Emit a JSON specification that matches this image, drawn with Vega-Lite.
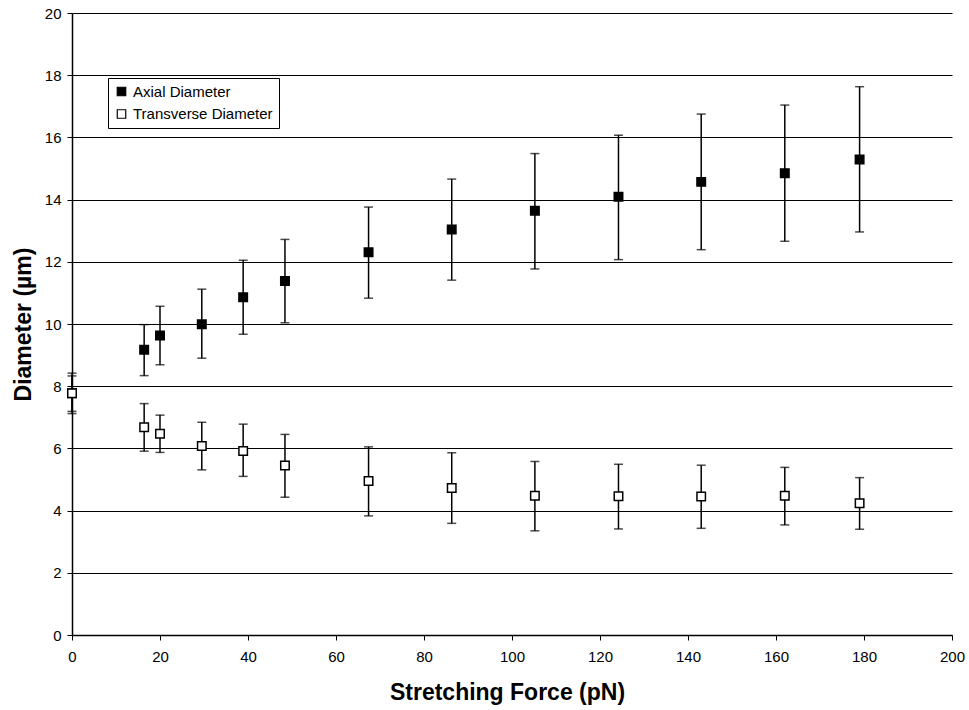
{
  "$schema": "https://vega.github.io/schema/vega-lite/v6.json",
  "width": 880,
  "height": 622,
  "autosize": "none",
  "padding": {"left": 72, "top": 13, "right": 17, "bottom": 75},
  "background": "white",
  "config": {
    "view": {"stroke": null},
    "font": "Liberation Sans",
    "axis": {
      "labelFont": "Liberation Sans",
      "titleFont": "Liberation Sans",
      "labelColor": "black",
      "titleColor": "black",
      "domainColor": "black",
      "tickColor": "black",
      "domainWidth": 1.5,
      "tickWidth": 1,
      "tickSize": 5,
      "labelFontSize": 15,
      "titleFontSize": 23,
      "titleFontWeight": "bold",
      "labelFlush": false,
      "labelOverlap": false
    }
  },
  "data": {
    "values": [
      {"series": "Axial Diameter", "force": 0, "d": 7.77, "lo": 7.12, "hi": 8.42},
      {"series": "Axial Diameter", "force": 16.4, "d": 9.17, "lo": 8.34, "hi": 9.98},
      {"series": "Axial Diameter", "force": 20.0, "d": 9.63, "lo": 8.69, "hi": 10.57},
      {"series": "Axial Diameter", "force": 29.5, "d": 9.99, "lo": 8.90, "hi": 11.12},
      {"series": "Axial Diameter", "force": 38.9, "d": 10.86, "lo": 9.67, "hi": 12.05},
      {"series": "Axial Diameter", "force": 48.4, "d": 11.38, "lo": 10.04, "hi": 12.72},
      {"series": "Axial Diameter", "force": 67.4, "d": 12.31, "lo": 10.83, "hi": 13.76},
      {"series": "Axial Diameter", "force": 86.3, "d": 13.04, "lo": 11.41, "hi": 14.66},
      {"series": "Axial Diameter", "force": 105.2, "d": 13.64, "lo": 11.77, "hi": 15.48},
      {"series": "Axial Diameter", "force": 124.2, "d": 14.09, "lo": 12.07, "hi": 16.07},
      {"series": "Axial Diameter", "force": 143.0, "d": 14.57, "lo": 12.39, "hi": 16.75},
      {"series": "Axial Diameter", "force": 162.0, "d": 14.85, "lo": 12.66, "hi": 17.04},
      {"series": "Axial Diameter", "force": 179.0, "d": 15.29, "lo": 12.96, "hi": 17.63},
      {"series": "Transverse Diameter", "force": 0, "d": 7.77, "lo": 7.19, "hi": 8.33},
      {"series": "Transverse Diameter", "force": 16.4, "d": 6.68, "lo": 5.91, "hi": 7.44},
      {"series": "Transverse Diameter", "force": 20.0, "d": 6.47, "lo": 5.87, "hi": 7.07},
      {"series": "Transverse Diameter", "force": 29.5, "d": 6.08, "lo": 5.31, "hi": 6.84},
      {"series": "Transverse Diameter", "force": 38.9, "d": 5.92, "lo": 5.10, "hi": 6.78},
      {"series": "Transverse Diameter", "force": 48.4, "d": 5.45, "lo": 4.43, "hi": 6.45},
      {"series": "Transverse Diameter", "force": 67.4, "d": 4.95, "lo": 3.83, "hi": 6.05},
      {"series": "Transverse Diameter", "force": 86.3, "d": 4.73, "lo": 3.59, "hi": 5.86},
      {"series": "Transverse Diameter", "force": 105.2, "d": 4.48, "lo": 3.35, "hi": 5.58},
      {"series": "Transverse Diameter", "force": 124.2, "d": 4.46, "lo": 3.41, "hi": 5.49},
      {"series": "Transverse Diameter", "force": 143.0, "d": 4.45, "lo": 3.43, "hi": 5.46},
      {"series": "Transverse Diameter", "force": 162.0, "d": 4.48, "lo": 3.54, "hi": 5.39},
      {"series": "Transverse Diameter", "force": 179.0, "d": 4.24, "lo": 3.40, "hi": 5.06}
    ]
  },
  "encoding": {
    "x": {
      "field": "force",
      "type": "quantitative",
      "scale": {"domain": [0, 200], "nice": false, "zero": false},
      "axis": {
        "title": "Stretching Force (pN)",
        "values": [0, 20, 40, 60, 80, 100, 120, 140, 160, 180, 200],
        "grid": false,
        "labelPadding": 9,
        "titleBaseline": "alphabetic",
        "titleY": 64,
        "titleX": 435
      }
    }
  },
  "layer": [
    {
      "mark": {"type": "rule", "color": "black", "strokeWidth": 1.5},
      "encoding": {
        "y": {
          "field": "lo",
          "type": "quantitative",
          "scale": {"domain": [0, 20], "nice": false},
          "axis": {
            "title": "Diameter (µm)",
            "values": [0, 2, 4, 6, 8, 10, 12, 14, 16, 18, 20],
            "grid": true,
            "gridColor": "black",
            "gridWidth": 1,
            "gridOpacity": 1,
            "labelPadding": 6,
            "titleBaseline": "alphabetic",
            "titleX": -42
          }
        },
        "y2": {"field": "hi"}
      }
    },
    {
      "mark": {"type": "tick", "orient": "horizontal", "color": "black", "size": 9, "thickness": 1.5},
      "encoding": {"y": {"field": "lo", "type": "quantitative"}}
    },
    {
      "mark": {"type": "tick", "orient": "horizontal", "color": "black", "size": 9, "thickness": 1.5},
      "encoding": {"y": {"field": "hi", "type": "quantitative"}}
    },
    {
      "mark": {"type": "point", "shape": "square", "filled": true, "size": 72, "stroke": "black", "strokeWidth": 1.5, "opacity": 1},
      "encoding": {
        "y": {"field": "d", "type": "quantitative"},
        "fill": {
          "field": "series",
          "type": "nominal",
          "scale": {"domain": ["Axial Diameter", "Transverse Diameter"], "range": ["black", "white"]},
          "legend": {
            "title": null,
            "orient": "none",
            "legendX": 36,
            "legendY": 65,
            "strokeColor": "black",
            "fillColor": "white",
            "padding": 6,
            "rowPadding": 6.5,
            "symbolType": "square",
            "symbolSize": 72,
            "symbolStrokeColor": "black",
            "symbolStrokeWidth": 1.2,
            "symbolOpacity": 1,
            "labelFont": "Liberation Sans",
            "labelFontSize": 15,
            "labelColor": "black",
            "labelOffset": 4
          }
        }
      }
    }
  ]
}
